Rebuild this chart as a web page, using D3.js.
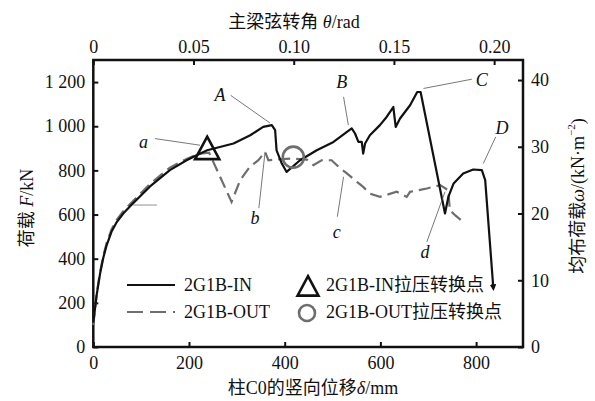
<!DOCTYPE html>
<html>
<head>
<meta charset="utf-8">
<script src="https://cdn.jsdelivr.net/npm/d3@7"></script>
<style>
body { margin: 0; background: #fff; }
svg text { font-family: "Liberation Serif", "Times New Roman", "Noto Sans CJK SC", serif; fill: #111; }
</style>
</head>
<body>
<div id="chart"></div>
<script>
// Data ------------------------------------------------------------------------------------------------------
// 2G1B-IN: displacement (mm) / load (kN)
const inDisp = [0, 7, 14, 21, 28, 38, 49, 63, 77, 118, 160, 195, 216, 238, 293, 328, 355, 373, 380, 383, 394, 404, 432, 467, 502, 540, 547, 554, 561, 564, 568, 578, 599, 613, 627, 632, 641, 662, 677, 684, 735, 742, 753, 773, 794, 812, 819, 836];
const inLoad = [110, 235, 330, 405, 462, 522, 566, 606, 638, 726, 801, 846, 869, 891, 922, 959, 997, 1005, 982, 891, 831, 793, 846, 891, 929, 990, 967, 929, 929, 876, 922, 959, 1005, 1042, 1087, 997, 1035, 1095, 1155, 1155, 605, 680, 741, 786, 804, 801, 756, 266];

// 2G1B-OUT
const outDisp = [0, 7, 14, 21, 28, 38, 49, 63, 77, 118, 160, 195, 220, 242, 289, 307, 327, 345, 359, 366, 383, 415, 446, 460, 477, 498, 516, 530, 551, 564, 578, 599, 634, 655, 662, 697, 725, 742, 745, 756, 773];
const outLoad = [100, 240, 338, 414, 472, 532, 576, 616, 648, 738, 812, 852, 875, 880, 657, 756, 816, 846, 884, 846, 849, 854, 849, 824, 846, 846, 809, 786, 748, 725, 695, 680, 703, 680, 703, 718, 733, 710, 620, 597, 567];

// tension-compression transition points
const transIn = [238, 891];
const transOut = [418, 860];

// ticks
const bottomTicks = [0, 200, 400, 600, 800];
const leftTicks = [0, 200, 400, 600, 800, 1000, 1200];
const leftLabels = ["0", "200", "400", "600", "800", "1 000", "1 200"];
const topTicks = [0, 0.05, 0.10, 0.15, 0.20];
const topLabels = ["0", "0.05", "0.10", "0.15", "0.20"];
const rightTicks = [0, 10, 20, 30, 40];

// annotation letters: [label, textX, textY, lineX1, lineY1, lineX2, lineY2] in data units
const notes = [
  ["A", 265, 1140, 287, 1140, 369, 1015],
  ["a", 105, 929, 129, 944, 223, 914],
  ["b", 338, 584, 346, 629, 359, 884],
  ["B", 519, 1200, 523, 1133, 533, 1005],
  ["C", 812, 1208, 791, 1213, 690, 1171],
  ["D", 854, 990, 841, 952, 815, 831],
  ["c", 509, 522, 510, 590, 523, 771],
  ["d", 693, 431, 697, 476, 735, 703]
];

// Dimensions ------------------------------------------------------------------------------------------------
const width = 595, height = 401;
const plot = {left: 93.3, right: 523, top: 60, bottom: 347};

const svg = d3.select("#chart").append("svg")
  .attr("width", width)
  .attr("height", height);

// Scales
const x = d3.scaleLinear().domain([0, 898]).range([plot.left, plot.right]);
const y = d3.scaleLinear().domain([0, 1300]).range([plot.bottom, plot.top]);
const xTop = d3.scaleLinear().domain([0, 0.2144]).range([plot.left, plot.right]);
const yRight = d3.scaleLinear().domain([0, 43]).range([plot.bottom, plot.top]);

// Axes ------------------------------------------------------------------------------------------------------
const styleAxis = g => {
  g.select(".domain").remove();
  g.selectAll(".tick line").attr("stroke", "#111").attr("stroke-width", 2);
  g.selectAll(".tick text").attr("font-size", 18).attr("fill", "#111")
    .style("font-family", '"Liberation Serif", "Times New Roman", serif');
};

svg.append("g")
  .attr("transform", `translate(0,${plot.bottom})`)
  .call(d3.axisBottom(x).tickValues(bottomTicks).tickSizeInner(-5).tickSizeOuter(0).tickPadding(9))
  .call(styleAxis);

svg.append("g")
  .attr("transform", `translate(${plot.left},0)`)
  .call(d3.axisLeft(y).tickValues(leftTicks).tickFormat((d, i) => leftLabels[i]).tickSizeInner(-5).tickSizeOuter(0).tickPadding(8))
  .call(styleAxis);

svg.append("g")
  .attr("transform", `translate(0,${plot.top})`)
  .call(d3.axisTop(xTop).tickValues(topTicks).tickFormat((d, i) => topLabels[i]).tickSizeInner(-5).tickSizeOuter(0).tickPadding(7))
  .call(styleAxis);

svg.append("g")
  .attr("transform", `translate(${plot.right},0)`)
  .call(d3.axisRight(yRight).tickValues(rightTicks).tickSizeInner(-5).tickSizeOuter(0).tickPadding(8))
  .call(styleAxis);

// frame
svg.append("rect")
  .attr("x", plot.left).attr("y", plot.top)
  .attr("width", plot.right - plot.left).attr("height", plot.bottom - plot.top)
  .attr("fill", "none").attr("stroke", "#111").attr("stroke-width", 2.5);

// Axis titles
svg.append("text")
  .attr("x", 294).attr("y", 22)
  .attr("text-anchor", "middle").attr("dominant-baseline", "central")
  .attr("font-size", 18)
  .html('主梁弦转角 <tspan font-style="italic">θ</tspan>/rad');

svg.append("text")
  .attr("x", 313).attr("y", 388)
  .attr("text-anchor", "middle").attr("dominant-baseline", "central")
  .attr("font-size", 18)
  .html('柱C0的竖向位移<tspan font-style="italic">δ</tspan>/mm');

svg.append("text")
  .attr("transform", "translate(27,208) rotate(-90)")
  .attr("text-anchor", "middle").attr("dominant-baseline", "central")
  .attr("font-size", 18)
  .html('荷载 <tspan font-style="italic">F</tspan>/kN');

svg.append("text")
  .attr("transform", "translate(578,196) rotate(-90)")
  .attr("text-anchor", "middle").attr("dominant-baseline", "central")
  .attr("font-size", 18)
  .html('均布荷载<tspan font-style="italic">ω</tspan>/(kN·m<tspan font-size="11" dy="-7">−2</tspan><tspan dy="7">)</tspan>');

// Curves ----------------------------------------------------------------------------------------------------
const line = d3.line().x(d => x(d[0])).y(d => y(d[1]));

const defs = svg.append("defs");
defs.append("marker")
  .attr("id", "arrow")
  .attr("viewBox", "0 0 10 10")
  .attr("refX", 6).attr("refY", 5)
  .attr("markerWidth", 3).attr("markerHeight", 3)
  .attr("orient", "auto")
  .append("path")
  .attr("d", "M0,0L10,5L0,10Z")
  .attr("fill", "#111");

svg.append("path")
  .datum(outDisp.map((d, i) => [d, outLoad[i]]))
  .attr("d", line)
  .attr("fill", "none")
  .attr("stroke", "#6e6e6e")
  .attr("stroke-width", 2.2)
  .attr("stroke-dasharray", "12,6");

svg.append("path")
  .datum(inDisp.map((d, i) => [d, inLoad[i]]))
  .attr("d", line)
  .attr("fill", "none")
  .attr("stroke", "#111")
  .attr("stroke-width", 2.2)
  .attr("stroke-linejoin", "round")
  .attr("marker-end", "url(#arrow)");

// stray guide line
svg.append("line")
  .attr("x1", x(83)).attr("y1", y(643))
  .attr("x2", x(133)).attr("y2", y(643))
  .attr("stroke", "#777").attr("stroke-width", 0.8);

// annotations
const ann = svg.append("g");
notes.forEach(n => {
  ann.append("line")
    .attr("x1", x(n[3])).attr("y1", y(n[4]))
    .attr("x2", x(n[5])).attr("y2", y(n[6]))
    .attr("stroke", "#555").attr("stroke-width", 0.8);
  ann.append("text")
    .attr("x", x(n[1])).attr("y", y(n[2]))
    .attr("text-anchor", "middle").attr("dominant-baseline", "central")
    .attr("font-size", 18).attr("font-style", "italic")
    .text(n[0]);
});

// transition markers
const triPath = s => `M0,${-s * 0.62}L${s * 0.55},${s * 0.4}L${-s * 0.55},${s * 0.4}Z`;

svg.append("path")
  .attr("transform", `translate(${x(transIn[0])},${y(transIn[1])})`)
  .attr("d", triPath(22))
  .attr("fill", "none").attr("stroke", "#111").attr("stroke-width", 2.6)
  .attr("stroke-linejoin", "miter");

svg.append("circle")
  .attr("cx", x(transOut[0])).attr("cy", y(transOut[1]))
  .attr("r", 10.5)
  .attr("fill", "none").attr("stroke", "#6e6e6e").attr("stroke-width", 2.6);

// Legend ----------------------------------------------------------------------------------------------------
const legend = svg.append("g");
legend.append("line")
  .attr("x1", 127).attr("x2", 175).attr("y1", 285).attr("y2", 285)
  .attr("stroke", "#111").attr("stroke-width", 2.2);
legend.append("text").attr("x", 184).attr("y", 285)
  .attr("dominant-baseline", "central").attr("font-size", 18).text("2G1B-IN");

legend.append("line")
  .attr("x1", 127).attr("x2", 175).attr("y1", 312).attr("y2", 312)
  .attr("stroke", "#6e6e6e").attr("stroke-width", 2.2)
  .attr("stroke-dasharray", "16,7");
legend.append("text").attr("x", 184).attr("y", 312)
  .attr("dominant-baseline", "central").attr("font-size", 18).text("2G1B-OUT");

legend.append("path")
  .attr("transform", "translate(308,288)")
  .attr("d", triPath(19))
  .attr("fill", "none").attr("stroke", "#111").attr("stroke-width", 2.6);
legend.append("text").attr("x", 326).attr("y", 285)
  .attr("dominant-baseline", "central").attr("font-size", 18).text("2G1B-IN拉压转换点");

legend.append("circle")
  .attr("cx", 307).attr("cy", 313).attr("r", 8)
  .attr("fill", "none").attr("stroke", "#6e6e6e").attr("stroke-width", 2.6);
legend.append("text").attr("x", 326).attr("y", 312)
  .attr("dominant-baseline", "central").attr("font-size", 18).text("2G1B-OUT拉压转换点");
</script>
</body>
</html>
